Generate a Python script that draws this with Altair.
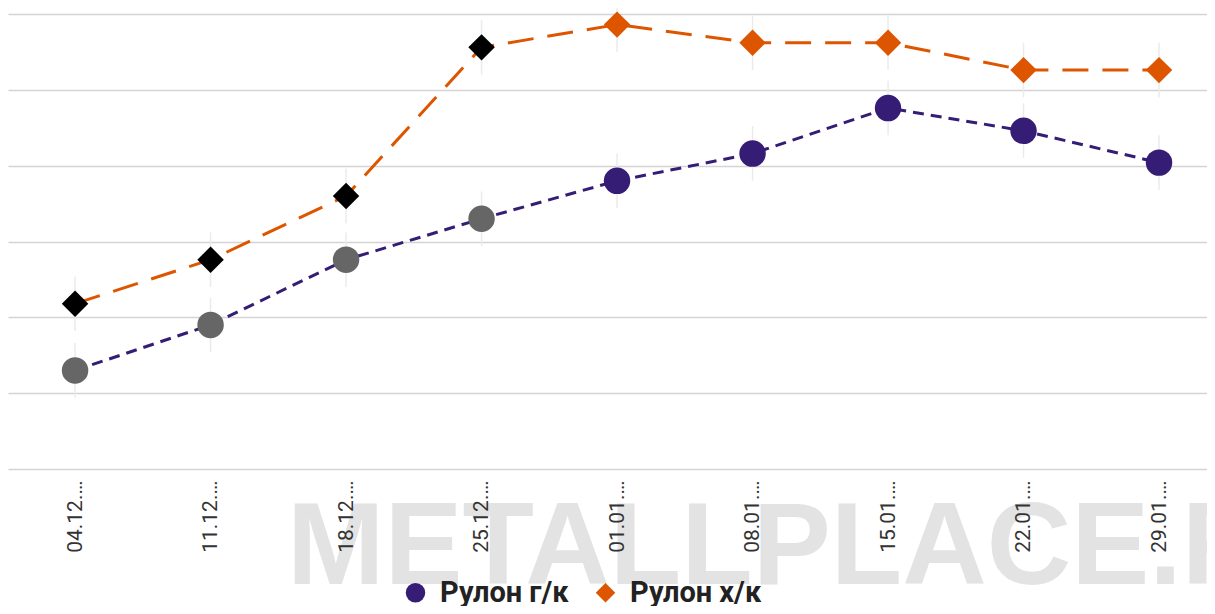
import altair as alt
import pandas as pd

dates = ["04.12.2023", "11.12.2023", "18.12.2023", "25.12.2023", "01.01.2024",
         "08.01.2024", "15.01.2024", "22.01.2024", "29.01.2024"]
hrc = [66500, 69500, 73800, 76500, 79000, 80800, 83800, 82300, 80200]   # Рулон г/к
crc = [70900, 73800, 78000, 87800, 89300, 88100, 88100, 86300, 86300]   # Рулон х/к
series_names = ["Рулон г/к", "Рулон х/к"]
early_count = 4
grid_values = [60000, 65000, 70000, 75000, 80000, 85000, 90000]

rows = []
for s, vals in zip(series_names, [hrc, crc]):
    for i, (d, v) in enumerate(zip(dates, vals)):
        rows.append({"date": d, "series": s, "value": v, "idx": i, "early": i < early_count})
df = pd.DataFrame(rows)

x_enc = alt.X("date:N", sort=dates, title=None,
              scale=alt.Scale(type="point", padding=0.4245, align=0.583),
              axis=alt.Axis(labelAngle=-90, labelFont="Roboto", labelFontSize=21,
                            labelColor="#333333", labelLimit=80, labelPadding=11,
                            ticks=False, domain=False, grid=False, zindex=1))
y_enc = alt.Y("value:Q", title=None,
              scale=alt.Scale(domain=[60000, 90000], nice=False, zero=False),
              axis=alt.Axis(values=grid_values, labels=False, ticks=False, domain=False,
                            grid=True, gridColor="#d4d4d4", gridWidth=1.6))

color_scale = alt.Scale(domain=series_names, range=["#351c75", "#de5500"])

legend = alt.Legend(orient="none", legendX=393, legendY=564, direction="horizontal",
                    title=None, labelFont="Roboto", labelFontSize=29, labelFontWeight="bold",
                    labelColor="#222222", symbolSize=380, labelOffset=10,
                    columnPadding=22, padding=0, symbolStrokeWidth=0, labelLimit=300)

watermark = alt.Chart(pd.DataFrame({"t": ["METALLPLACE.RU"]})).mark_text(
    font="Liberation Sans", fontWeight="bold", fontSize=117,
    color="#e3e3e3", align="left", baseline="alphabetic"
).encode(x=alt.value(279), y=alt.value(570), text="t:N")

base = alt.Chart(df)

whiskers = base.transform_calculate(
    lo="datum.value - 1800", hi="datum.value + 1800"
).mark_rule(color="#ebebeb", strokeWidth=1.5).encode(
    x=x_enc, y=alt.Y("lo:Q"), y2="hi:Q"
)

lines = base.mark_line(strokeWidth=3).encode(
    x=x_enc, y=y_enc,
    color=alt.Color("series:N", scale=color_scale, legend=legend),
    strokeDash=alt.StrokeDash("series:N", scale=alt.Scale(domain=series_names,
                              range=[[11, 7], [26, 14]]), legend=None),
    detail="series:N",
)

points = base.mark_point(filled=True, opacity=1, strokeWidth=0, size=700).encode(
    x=x_enc, y=y_enc,
    color=alt.Color("series:N", scale=color_scale, legend=legend,
                    condition=[
                        {"test": "datum.early && datum.series === 'Рулон г/к'", "value": "#666666"},
                        {"test": "datum.early && datum.series === 'Рулон х/к'", "value": "#000000"},
                    ]),
    shape=alt.Shape("series:N", scale=alt.Scale(domain=series_names, range=["circle", "diamond"]),
                    legend=legend),
)

chart = alt.layer(watermark, whiskers, lines, points).properties(
    width=1199, height=455,
    autosize=alt.AutoSizeParams(type="none"),
    padding={"left": 0, "top": 6, "right": 0, "bottom": 137},
    background="white",
).configure_view(stroke=None)

chart.save("out.html", embed_options={"renderer": "svg", "actions": False})
